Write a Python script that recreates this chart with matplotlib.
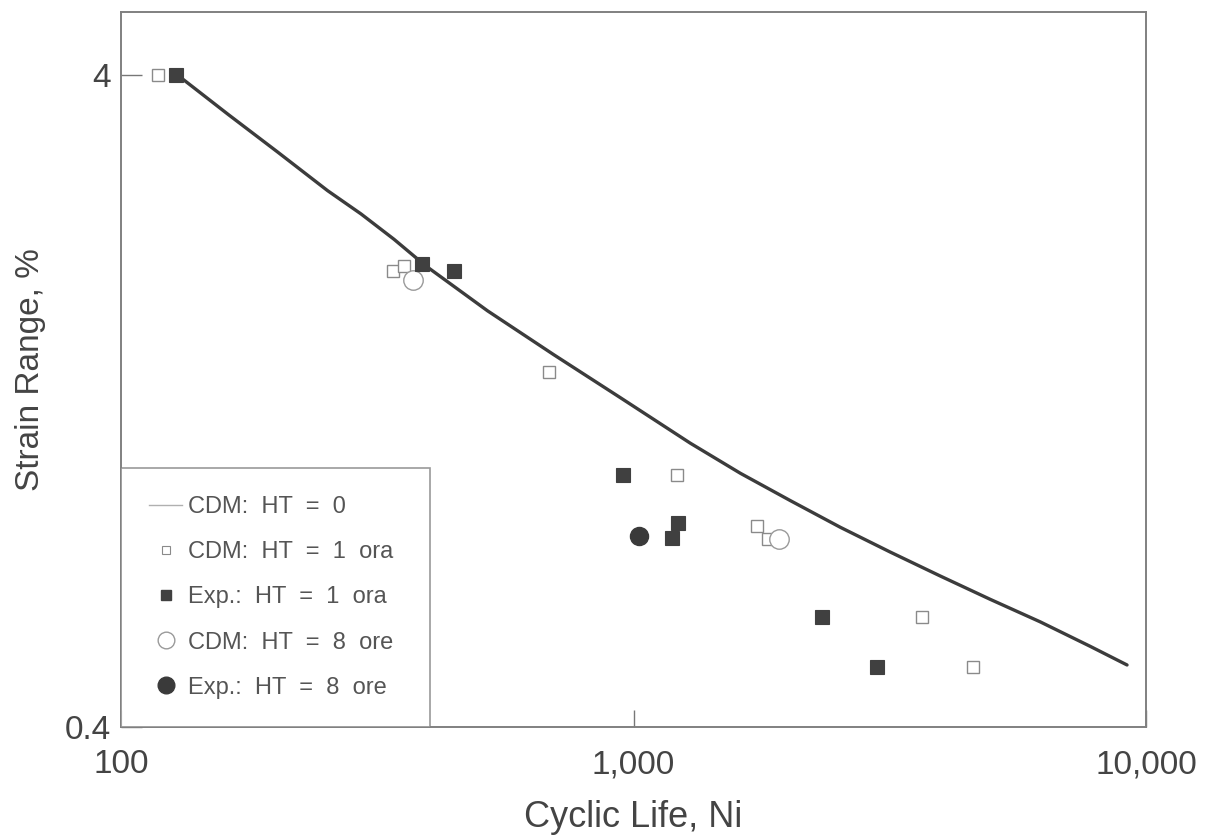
import matplotlib
matplotlib.use("Agg")
import matplotlib.pyplot as plt
from matplotlib.lines import Line2D
from matplotlib.ticker import NullLocator

plt.rcParams['font.family'] = ['Liberation Sans', 'DejaVu Sans']

# CDM prediction without heat treatment (continuous curve)
cdm0_life = [129, 162, 202, 253, 294, 341, 393, 519, 699, 943, 1291, 1617,
             2023, 2532, 3170, 3966, 4965, 6215, 7778, 9183]
cdm0_strain = [4.0, 3.48, 3.05, 2.66, 2.45, 2.24, 2.04, 1.74, 1.49, 1.28, 1.09,
               0.98, 0.89, 0.81, 0.742, 0.682, 0.628, 0.580, 0.532, 0.498]

# CDM prediction, HT = 1 ora
cdm1_life = [118, 339, 356, 683, 1218, 1745, 1833, 3656, 4603]
cdm1_strain = [4.0, 2.0, 2.04, 1.40, 0.974, 0.815, 0.777, 0.59, 0.495]

# Experiments, HT = 1 ora
exp1_life = [128, 386, 446, 956, 1224, 1191, 2335, 2989]
exp1_strain = [4.0, 2.05, 2.0, 0.974, 0.822, 0.780, 0.590, 0.495]

# CDM prediction, HT = 8 ore
cdm8_life = [372, 1919]
cdm8_strain = [1.94, 0.777]

# Experiments, HT = 8 ore
exp8_life = [1027]
exp8_strain = [0.785]

x_ticks = [100, 1000, 10000]
x_ticklabels = ['100', '1,000', '10,000']
y_ticks = [0.4, 4]
y_ticklabels = ['0.4', '4']

legend_labels = ['CDM:  HT  =  0', 'CDM:  HT  =  1  ora', 'Exp.:  HT  =  1  ora',
                 'CDM:  HT  =  8  ore', 'Exp.:  HT  =  8  ore']

W, H = 1208, 836
fig = plt.figure(figsize=(W / 100, H / 100), dpi=100)
fig.patch.set_facecolor('white')
ax = fig.add_axes([121 / W, 1 - 727 / H, 1025 / W, 715 / H])

dark = '#3c3c3c'
text_col = '#444444'
open_edge = '#8a8a8a'

ax.plot(cdm0_life, cdm0_strain, color=dark, lw=2.4, solid_capstyle='round',
        solid_joinstyle='round', zorder=3)
ax.plot(cdm1_life, cdm1_strain, ls='none', marker='s', ms=9, mfc='white',
        mec=open_edge, mew=1.0, zorder=4)
ax.plot(exp1_life, exp1_strain, ls='none', marker='s', ms=9.5, mfc='#404040',
        mec='#404040', mew=0.8, zorder=5)
ax.plot(cdm8_life, cdm8_strain, ls='none', marker='o', ms=14, mfc='white',
        mec='#9a9a9a', mew=1.0, zorder=4)
ax.plot(exp8_life, exp8_strain, ls='none', marker='o', ms=13, mfc='#3a3a3a',
        mec='#3a3a3a', zorder=5)

ax.set_xscale('log')
ax.set_yscale('log')
ax.set_xlim(100, 10000)
ax.set_ylim(0.4, 5)
ax.xaxis.set_minor_locator(NullLocator())
ax.yaxis.set_minor_locator(NullLocator())
ax.set_xticks(x_ticks, labels=x_ticklabels)
ax.set_yticks(y_ticks, labels=y_ticklabels)
ax.tick_params(axis='x', direction='in', length=12, width=1.0, color='#777777',
               labelsize=24, labelcolor=text_col, pad=16)
ax.tick_params(axis='y', direction='in', length=15, width=1.0, color='#777777',
               labelsize=24, labelcolor=text_col, pad=7)
for s in ax.spines.values():
    s.set_color('#808080')
    s.set_linewidth(1.4)

ax.set_xlabel('Cyclic Life, Ni', fontsize=26, color=text_col)
ax.xaxis.set_label_coords(0.5, -(800 - 727) / 715)
ax.set_ylabel('Strain Range, %', fontsize=24, color=text_col)
ax.yaxis.set_label_coords(-(121 - 46) / 1025, (727 - 370) / 715)

handles = [
    Line2D([], [], color='#b0b0b0', lw=1.0),
    Line2D([], [], ls='none', marker='s', ms=6, mfc='white', mec=open_edge, mew=0.8),
    Line2D([], [], ls='none', marker='s', ms=7.5, mfc='#404040', mec='#404040'),
    Line2D([], [], ls='none', marker='o', ms=12, mfc='white', mec='#9a9a9a', mew=1.0),
    Line2D([], [], ls='none', marker='o', ms=12, mfc='#3a3a3a', mec='#3a3a3a'),
]
leg = ax.legend(handles, legend_labels, loc='lower left',
                bbox_to_anchor=(0, 0, 309 / 1025, 0.36), mode='expand',
                borderaxespad=0, frameon=True, fancybox=False, fontsize=17,
                labelcolor='#555555', handlelength=1.4, handletextpad=0.25,
                labelspacing=0.98, borderpad=1.2)
leg.get_frame().set_edgecolor('#808080')
leg.get_frame().set_linewidth(1.2)

fig.savefig('out.png', dpi=100, facecolor='white')
